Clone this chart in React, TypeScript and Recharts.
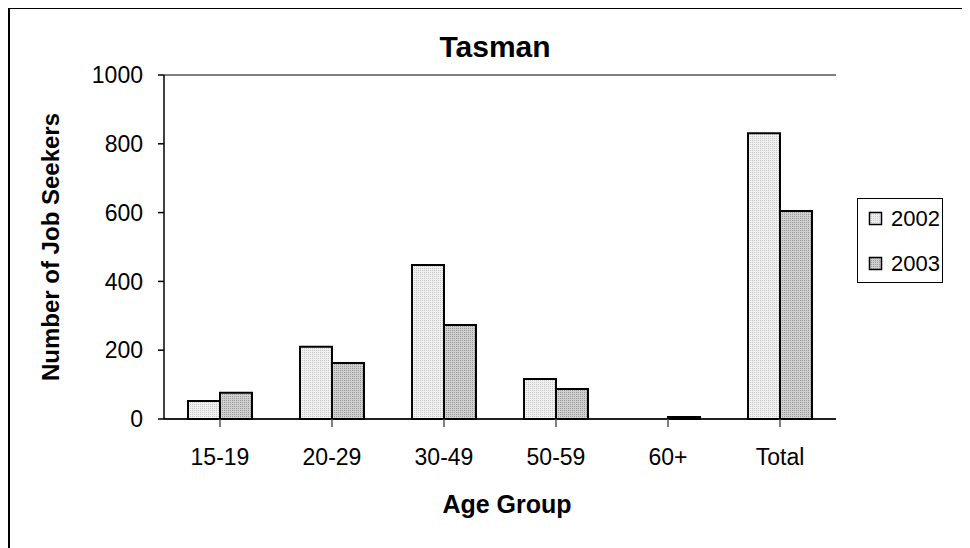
import React from 'react';
import { BarChart, Bar, XAxis, YAxis, CartesianGrid } from 'recharts';

const ageGroups = ['15-19', '20-29', '30-49', '50-59', '60+', 'Total'];
const seekers2002 = [52, 210, 448, 116, 0, 831];
const seekers2003 = [76, 163, 273, 87, 6, 605];
const yTicks = [0, 200, 400, 600, 800, 1000];
const seriesNames = ['2002', '2003'];

const data = ageGroups.map((g, i) => ({ group: g, y2002: seekers2002[i], y2003: seekers2003[i] }));

const FONT = '"Liberation Sans", Arial, sans-serif';

const Patterns = () => (
  <defs>
    <pattern id="pat2002" width="2" height="2" patternUnits="userSpaceOnUse">
      <rect width="2" height="2" fill="#f0f0f0" />
      <rect width="1" height="1" fill="#c8c8c8" />
    </pattern>
    <pattern id="pat2003" width="2" height="2" patternUnits="userSpaceOnUse">
      <rect width="2" height="2" fill="#cfcfcf" />
      <rect width="1" height="1" fill="#9a9a9a" />
    </pattern>
  </defs>
);

// legend box, drawn next to the plot
const LegendBox = () => (
  <svg width={86} height={85} style={{ position: 'absolute', left: 849, top: 190 }}>
    <Patterns />
    <rect x={0.5} y={0.5} width={85} height={84} fill="#fff" stroke="#000" strokeWidth={1} />
    {seriesNames.map((name, i) => (
      <g key={name}>
        <rect x={12.5} y={14.5 + i * 45} width={12} height={12} fill={i === 0 ? 'url(#pat2002)' : 'url(#pat2003)'} stroke="#000" strokeWidth={1.5} />
        <text x={34} y={28 + i * 45} fontFamily={FONT} fontSize={22} fill="#000">{name}</text>
      </g>
    ))}
  </svg>
);

export default function App() {
  return (
    <div style={{ position: 'relative', width: 956, height: 560 }}>
      <BarChart
        width={956}
        height={560}
        data={data}
        margin={{ top: 67, right: 128, left: 10, bottom: 49 }}
        barCategoryGap={24}
        barGap={0}
      >
        <Patterns />
        <CartesianGrid vertical={false} stroke="#000" strokeWidth={1} />
        <XAxis
          dataKey="group"
          height={100}
          tickSize={8}
          tickMargin={22}
          axisLine={{ stroke: '#000', strokeWidth: 1.5 }}
          tickLine={{ stroke: '#555', strokeWidth: 1.5 }}
          tick={{ fill: '#000', fontSize: 23, fontFamily: FONT }}
          label={{ value: 'Age Group', position: 'insideBottom', offset: 6, dx: 7, style: { fill: '#000', fontSize: 25, fontWeight: 'bold', fontFamily: FONT } }}
        />
        <YAxis
          yAxisId="left"
          width={146}
          domain={[0, 1000]}
          ticks={yTicks}
          tickSize={6}
          tickMargin={15}
          axisLine={{ stroke: '#000', strokeWidth: 1.5 }}
          tickLine={{ stroke: '#000', strokeWidth: 1.5 }}
          tick={{ fill: '#000', fontSize: 23, fontFamily: FONT }}
          label={{ value: 'Number of Job Seekers', angle: -90, position: 'insideLeft', offset: 32, style: { textAnchor: 'middle', fill: '#000', fontSize: 24, fontWeight: 'bold', fontFamily: FONT } }}
        />
        <YAxis
          yAxisId="right"
          orientation="right"
          width={0}
          domain={[0, 1000]}
          tick={false}
          tickLine={false}
          axisLine={{ stroke: '#888', strokeWidth: 1.5 }}
        />
        <Bar yAxisId="left" dataKey="y2002" name="2002" fill="url(#pat2002)" stroke="#000" strokeWidth={2} isAnimationActive={false} />
        <Bar yAxisId="left" dataKey="y2003" name="2003" fill="url(#pat2003)" stroke="#000" strokeWidth={2} isAnimationActive={false} />
      </BarChart>
      <LegendBox />
      <div style={{ position: 'absolute', left: 387, top: 24, width: 200, textAlign: 'center', fontFamily: FONT, fontWeight: 'bold', fontSize: 30, lineHeight: '30px' }}>
        Tasman
      </div>
      <div style={{ position: 'absolute', left: 0, top: -1, width: 956, height: 561, border: '2px solid #000', boxSizing: 'border-box', pointerEvents: 'none' }} />
    </div>
  );
}
